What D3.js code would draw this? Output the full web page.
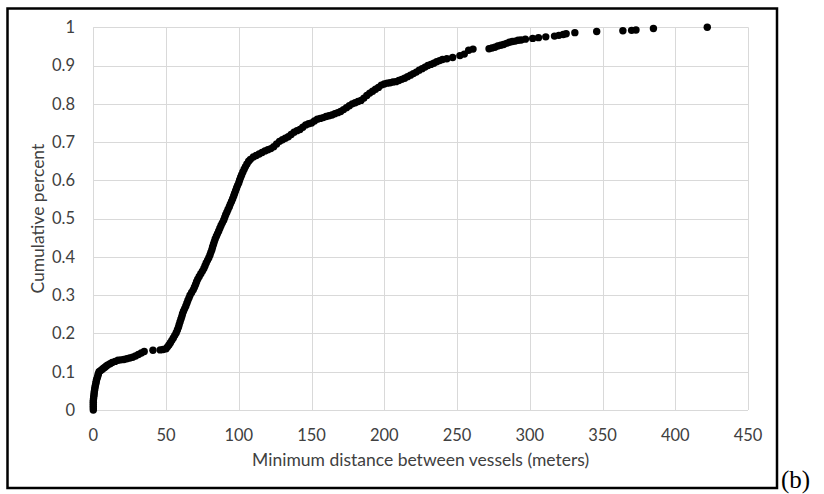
<!DOCTYPE html>
<html>
<head>
<meta charset="utf-8">
<script src="https://cdn.jsdelivr.net/npm/d3@7"></script>
<style>
  body { margin: 0; background: #fff; }
  .tickLabel { font-family: Lato, "Open Sans", sans-serif; font-size: 16.5px; fill: #404040; }
  .axisTitle { font-family: Lato, "Open Sans", sans-serif; font-size: 17.5px; fill: #404040; }
  .gridLine { stroke: #d9d9d9; stroke-width: 1; }
  .panelTag { font-family: "Liberation Serif", "DejaVu Serif", serif; font-size: 25px; fill: #000; }
</style>
</head>
<body>
<div id="chart"></div>
<script>
// minimum distance between vessels (meters), sorted
var distance = [
  0, 0, 0, 0, 0, 0, 0.2, 0.3, 0.5, 0.6, 0.8, 1, 1.2, 1.5, 1.8, 2, 2.3, 2.8, 3.2, 3.5, 4,
  5, 6, 7, 8, 9, 10, 11.5, 13, 15, 17, 19, 21, 23, 25, 27, 29, 31, 33, 35, 41, 46, 48, 50,
  51, 52, 53, 54, 55, 56,
  57, 57.8, 58.5, 59, 59.6, 60.2, 60.8, 61.3, 62, 62.8, 63.6, 64.3, 65, 65.8, 66.5,
  67.6, 68.7, 69.5, 70.3, 71, 71.8, 72.8, 73.9, 75, 76, 76.8, 77.6, 78.5, 79.4,
  80.2, 80.8, 81.5, 82, 82.6, 83.2, 83.8, 84.6, 85.4, 86.2, 87, 87.8, 88.7, 89.6,
  90.3, 91, 91.8, 92.6, 93.5, 94.2, 95, 95.8, 96.5, 97.1, 97.8, 98.5, 99.2,
  100, 100.6, 101.3, 102, 102.8, 103.7, 104.6, 105.6, 106.8,
  108, 110, 112, 114, 116, 118, 120, 122, 124, 126, 128, 130, 132, 134, 136, 138,
  140, 142, 144, 146, 148, 150, 152, 154, 156, 158, 160, 162, 164, 166, 168,
  170, 172, 174, 176, 178, 180, 182, 184, 186, 188, 190, 192, 194, 196, 198,
  200, 202, 204, 206, 208, 210, 212, 214, 216, 218, 220, 222, 224, 226, 228,
  230, 232, 234, 236, 238, 240,
  243, 247, 252, 255, 258, 261, 272, 274, 276, 278, 280, 282, 284, 286, 288,
  290, 292, 294, 297, 302, 306, 311, 317, 320, 323, 325, 331, 346, 364, 370,
  373, 385, 422
];

// cumulative percent for each distance above
var cumPercent = [
  0, 0.005, 0.01, 0.015, 0.02, 0.025, 0.03, 0.035, 0.04, 0.045, 0.05, 0.055, 0.06, 0.065, 0.07, 0.075, 0.08, 0.085, 0.09, 0.095, 0.1,
  0.103, 0.106, 0.109, 0.112, 0.115, 0.118, 0.121, 0.124, 0.127, 0.13, 0.131, 0.132, 0.134, 0.136, 0.138, 0.141, 0.145, 0.149, 0.153, 0.156, 0.157, 0.158, 0.16,
  0.165, 0.17, 0.176, 0.182, 0.188, 0.195,
  0.202, 0.209, 0.216, 0.223, 0.23, 0.237, 0.244, 0.251, 0.258, 0.265, 0.272, 0.279, 0.286, 0.293, 0.3,
  0.307, 0.314, 0.321, 0.328, 0.335, 0.342, 0.349, 0.356, 0.363, 0.37, 0.377, 0.384, 0.391, 0.398,
  0.405, 0.412, 0.419, 0.426, 0.433, 0.44, 0.447, 0.454, 0.461, 0.468, 0.475, 0.482, 0.489, 0.496,
  0.503, 0.51, 0.517, 0.524, 0.531, 0.538, 0.545, 0.552, 0.559, 0.566, 0.573, 0.58, 0.587,
  0.594, 0.601, 0.608, 0.615, 0.622, 0.629, 0.636, 0.643, 0.65,
  0.655, 0.661, 0.665, 0.669, 0.673, 0.677, 0.68, 0.683, 0.688, 0.695, 0.702, 0.706, 0.71, 0.714, 0.72, 0.726,
  0.73, 0.733, 0.739, 0.745, 0.748, 0.75, 0.755, 0.76, 0.762, 0.764, 0.767, 0.769, 0.771, 0.774, 0.777,
  0.78, 0.785, 0.79, 0.795, 0.8, 0.803, 0.806, 0.809, 0.815, 0.822, 0.828, 0.833, 0.838, 0.843, 0.849,
  0.852, 0.854, 0.855, 0.857, 0.858, 0.861, 0.864, 0.867, 0.871, 0.875, 0.879, 0.883, 0.888, 0.892, 0.896,
  0.9, 0.903, 0.906, 0.91, 0.913, 0.916,
  0.918, 0.921, 0.926, 0.93, 0.94, 0.943, 0.944, 0.946, 0.948, 0.951, 0.953, 0.955, 0.958, 0.961, 0.963,
  0.964, 0.966, 0.967, 0.969, 0.971, 0.973, 0.975, 0.977, 0.979, 0.981, 0.983, 0.986, 0.989, 0.991, 0.992,
  0.993, 0.997, 1
];

var xTicks = [0, 50, 100, 150, 200, 250, 300, 350, 400, 450];
var yTicks = [0, 0.1, 0.2, 0.3, 0.4, 0.5, 0.6, 0.7, 0.8, 0.9, 1];
var yTickLabels = ["0", "0.1", "0.2", "0.3", "0.4", "0.5", "0.6", "0.7", "0.8", "0.9", "1"];

var width = 824, height = 494;
var plot = {left: 93.3, right: 748, top: 27.3, bottom: 410};

var svg = d3.select("#chart").append("svg")
    .attr("width", width)
    .attr("height", height);

var xScale = d3.scaleLinear().domain([0, 450]).range([plot.left, plot.right]);
var yScale = d3.scaleLinear().domain([0, 1]).range([plot.bottom, plot.top]);

// outer frame around the chart
svg.append("rect")
    .attr("x", 7.5)
    .attr("y", 8.5)
    .attr("width", 769.5)
    .attr("height", 479.5)
    .attr("fill", "none")
    .attr("stroke", "#000")
    .attr("stroke-width", 2.5);

// gridlines
svg.selectAll(".hGrid")
    .data(yTicks)
    .enter().append("line")
    .attr("class", "gridLine")
    .attr("x1", plot.left).attr("x2", plot.right)
    .attr("y1", d => Math.round(yScale(d)) + 0.5)
    .attr("y2", d => Math.round(yScale(d)) + 0.5);

svg.selectAll(".vGrid")
    .data(xTicks)
    .enter().append("line")
    .attr("class", "gridLine")
    .attr("y1", plot.top).attr("y2", plot.bottom)
    .attr("x1", d => Math.round(xScale(d)) + 0.5)
    .attr("x2", d => Math.round(xScale(d)) + 0.5);

// tick labels
svg.selectAll(".yLabel")
    .data(yTicks)
    .enter().append("text")
    .attr("class", "tickLabel")
    .attr("x", 75)
    .attr("y", d => yScale(d))
    .attr("dy", "0.35em")
    .attr("text-anchor", "end")
    .text((d, i) => yTickLabels[i]);

svg.selectAll(".xLabel")
    .data(xTicks)
    .enter().append("text")
    .attr("class", "tickLabel")
    .attr("x", d => xScale(d))
    .attr("y", 441)
    .attr("text-anchor", "middle")
    .text(d => d);

// axis titles
svg.append("text")
    .attr("class", "axisTitle")
    .attr("x", (plot.left + plot.right) / 2)
    .attr("y", 466)
    .attr("text-anchor", "middle")
    .text("Minimum distance between vessels (meters)");

svg.append("text")
    .attr("class", "axisTitle")
    .attr("transform", "translate(44," + ((plot.top + plot.bottom) / 2) + ") rotate(-90)")
    .attr("text-anchor", "middle")
    .text("Cumulative percent");

// the data points
svg.selectAll(".dot")
    .data(distance)
    .enter().append("circle")
    .attr("cx", d => xScale(d))
    .attr("cy", (d, i) => yScale(cumPercent[i]))
    .attr("r", 3.7)
    .attr("fill", "#000");

// panel tag outside the frame
svg.append("text")
    .attr("class", "panelTag")
    .attr("x", 781)
    .attr("y", 488)
    .text("(b)");
</script>
</body>
</html>
